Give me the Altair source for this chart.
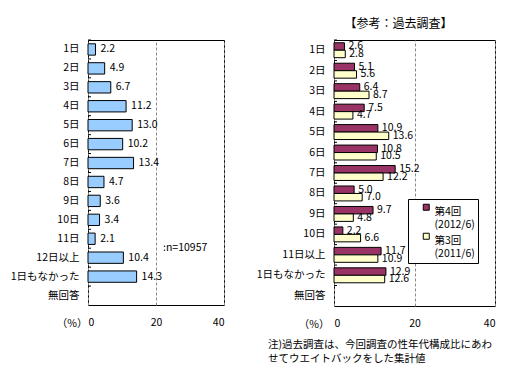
import altair as alt
import pandas as pd

FONT = "Noto Sans CJK JP"
FS = 10.5

# ---- data ----
left_cats = ["1日", "2日", "3日", "4日", "5日", "6日", "7日", "8日", "9日", "10日",
             "11日", "12日以上", "1日もなかった", "無回答"]
left_vals = [2.2, 4.9, 6.7, 11.2, 13.0, 10.2, 13.4, 4.7, 3.6, 3.4, 2.1, 10.4, 14.3]

right_cats = ["1日", "2日", "3日", "4日", "5日", "6日", "7日", "8日", "9日", "10日",
              "11日以上", "1日もなかった", "無回答"]
series = ["第4回|(2012/6)", "第3回|(2011/6)"]
r4_vals = [2.6, 5.1, 6.4, 7.5, 10.9, 10.8, 15.2, 5.0, 9.7, 2.2, 11.7, 12.9]
r3_vals = [2.8, 5.6, 8.7, 4.7, 13.6, 10.5, 12.2, 7.0, 4.8, 6.6, 10.9, 12.6]
series_colors = ["#993366", "#FFFFCC"]

x_ticks = [0, 20, 40]
n_text = [":n=10957"]
right_title = "【参考：過去調査】"
footnote = ["注)過去調査は、今回調査の性年代構成比にあわ", "せてウエイトバックをした集計値"]

# ---- tables ----
ldf = pd.DataFrame({"cat": left_cats[:len(left_vals)], "val": left_vals})
lcats_df = pd.DataFrame({"cat": left_cats})
rdf = pd.DataFrame({
    "cat": right_cats[:len(r4_vals)] * 2,
    "series": [series[0]] * len(r4_vals) + [series[1]] * len(r3_vals),
    "val": r4_vals + r3_vals,
})
rcats_df = pd.DataFrame({"cat": right_cats})


def x_enc(title_x):
    return alt.X("val:Q", scale=alt.Scale(domain=[0, 40], nice=False),
                 axis=alt.Axis(values=x_ticks, format="d", title="（%）",
                               titleX=title_x, titleY=18, titleAlign="right",
                               titleBaseline="middle", titleFont=FONT, titleFontSize=FS,
                               titleFontWeight="normal", titleColor="black",
                               grid=True, gridDash=[3, 2], gridColor="#888888",
                               ticks=False, domain=False, labelPadding=12,
                               labelFont=FONT, labelFontSize=FS, labelColor="black"))


def y_enc(cats, extent):
    return alt.Y("cat:N", sort=cats,
                 scale=alt.Scale(domain=cats, paddingInner=0, paddingOuter=0),
                 axis=alt.Axis(title=None, ticks=False, domain=False, labelPadding=9,
                               labelFont=FONT, labelFontSize=FS, labelColor="black",
                               minExtent=extent, maxExtent=extent))


# ---- left panel ----
lbase = alt.Chart(ldf)
lbars = lbase.mark_bar(fill="#99CCFF", stroke="black", strokeWidth=1,
                       height=alt.RelativeBandSize(0.6)).encode(
    x=x_enc(-1), y=y_enc(left_cats, 82))
ltext = lbase.mark_text(align="left", dx=5, font=FONT, fontSize=FS, color="black").encode(
    x="val:Q", y=alt.Y("cat:N", sort=left_cats), text=alt.Text("val:Q", format=".1f"))
lticks = alt.Chart(lcats_df).mark_rule(color="black").encode(
    y=alt.Y("cat:N", sort=left_cats, bandPosition=0), x=alt.value(0), x2=alt.value(3))
ln = alt.Chart(pd.DataFrame({"t": n_text})).mark_text(
    align="left", font=FONT, fontSize=FS, color="black").encode(
    text="t:N", x=alt.value(75), y=alt.value(208))

left = alt.layer(lbars, ltext, lticks, ln).properties(
    width=136, height=265,
    title=alt.TitleParams(".", fontSize=12, offset=15, color="rgba(0,0,0,0)"))

# ---- right panel ----
rbase = alt.Chart(rdf)
yoff = alt.YOffset("series:N", sort=series,
                   scale=alt.Scale(domain=series, paddingOuter=0.37, paddingInner=0))
rbars = rbase.mark_bar(stroke="black", strokeWidth=1).encode(
    x=x_enc(-5), y=y_enc(right_cats, 71), yOffset=yoff,
    color=alt.Color("series:N", sort=series,
                    scale=alt.Scale(domain=series, range=series_colors),
                    legend=alt.Legend(orient="none", legendX=320, legendY=159, title=None,
                                      labelExpr="split(datum.label + '      ', '|')",
                                      labelFont=FONT, labelFontSize=FS, labelColor="black",
                                      labelBaseline="top", labelOffset=3,
                                      symbolType="square", symbolSize=36,
                                      symbolStrokeColor="black", symbolStrokeWidth=1,
                                      symbolOffset=10,
                                      fillColor="white", strokeColor="black",
                                      padding=3, rowPadding=-6)))
rtext = rbase.mark_text(align="left", dx=4, font=FONT, fontSize=FS, color="black").encode(
    x="val:Q", y=alt.Y("cat:N", sort=right_cats), yOffset=yoff,
    text=alt.Text("val:Q", format=".1f"))
rticks = alt.Chart(rcats_df).mark_rule(color="black").encode(
    y=alt.Y("cat:N", sort=right_cats, bandPosition=0), x=alt.value(0), x2=alt.value(3))
rnote = alt.Chart(pd.DataFrame({"t": [footnote]})).mark_text(
    align="left", baseline="top", font=FONT, fontSize=FS, lineHeight=14,
    color="black").encode(text="t", x=alt.value(-66), y=alt.value(300))

right = alt.layer(rbars, rtext, rticks, rnote).properties(
    width=161, height=266,
    title=alt.TitleParams(right_title, font=FONT, fontSize=12, fontWeight="normal",
                          color="black", anchor="middle", frame="group", dx=-16, offset=9))

chart = alt.hconcat(left, right, spacing=30).properties(
    padding={"left": 5, "top": 11, "right": 5, "bottom": 5},
    background="white",
).configure_view(stroke="black", strokeWidth=1)

chart.save("out.html", embed_options={"renderer": "svg", "actions": False})
